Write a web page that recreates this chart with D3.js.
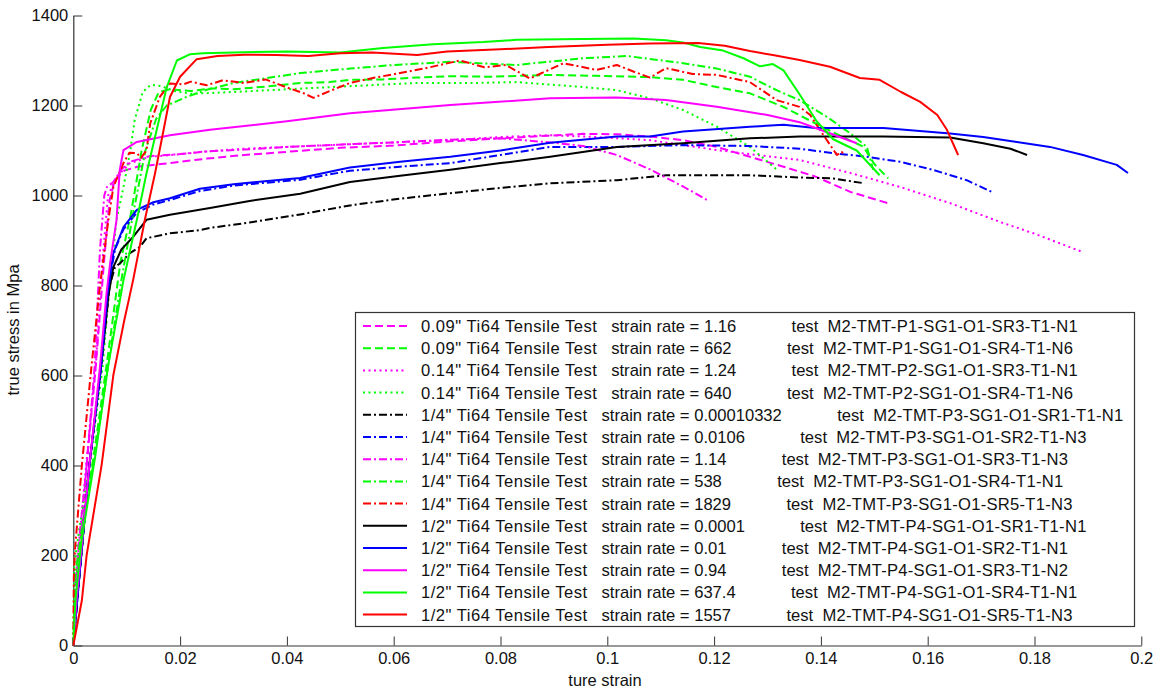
<!DOCTYPE html>
<html><head><meta charset="utf-8">
<script src="https://cdn.jsdelivr.net/npm/d3@7"></script>
<style>
html,body{margin:0;padding:0;background:#fff;}
svg{display:block;font-family:"Liberation Sans",Arial,Helvetica,sans-serif;}
</style></head>
<body><svg id="chart" width="1156" height="691"></svg>
<script>
// ---------- data (strain, true stress MPa) ----------
const s1_009_116 = [[0,0],[0.0008,150],[0.0025,400],[0.0042,620],[0.0058,860],[0.0068,990],[0.0078,1035],[0.0095,1055],[0.012,1064],[0.018,1072],[0.025,1082],[0.032,1090],[0.04,1097],[0.05,1106],[0.06,1111],[0.07,1120],[0.08,1127],[0.089,1133],[0.0955,1137],[0.102,1136],[0.108,1131],[0.1142,1123],[0.1205,1108],[0.1267,1086],[0.133,1064],[0.139,1042],[0.1455,1008],[0.1531,981]];
const s2_009_662 = [[0,0],[0.0003,120],[0.0015,250],[0.0038,420],[0.0062,620],[0.0088,850],[0.0108,960],[0.0128,1100],[0.0145,1190],[0.016,1230],[0.018,1236],[0.022,1232],[0.026,1238],[0.03,1236],[0.036,1242],[0.0425,1250],[0.048,1252],[0.0518,1257],[0.058,1258],[0.0643,1262],[0.0706,1265],[0.078,1264],[0.0893,1268],[0.098,1266],[0.108,1263],[0.1142,1257],[0.1205,1241],[0.1267,1227],[0.133,1197],[0.139,1160],[0.1441,1130],[0.148,1108],[0.150,1070],[0.1526,1038]];
const s3_014_124 = [[0,0],[0.0006,160],[0.0024,400],[0.0042,620],[0.0055,860],[0.0065,1000],[0.0081,1041],[0.0106,1072],[0.0144,1086],[0.02,1092],[0.025,1098],[0.032,1104],[0.04,1108],[0.0518,1114],[0.06,1118],[0.0706,1123],[0.08,1130],[0.0893,1134],[0.098,1130],[0.108,1123],[0.1205,1101],[0.128,1090],[0.136,1079],[0.1455,1050],[0.1548,1019],[0.1642,983],[0.1736,941],[0.1798,916],[0.1891,874]];
const s4_014_640 = [[0,0],[0.0002,180],[0.001,250],[0.0033,420],[0.0055,620],[0.0068,800],[0.0081,946],[0.0094,1019],[0.0106,1094],[0.0115,1168],[0.013,1230],[0.0145,1246],[0.0165,1243],[0.019,1232],[0.022,1226],[0.03,1230],[0.04,1236],[0.05,1242],[0.0643,1250],[0.075,1250],[0.083,1252],[0.0955,1241],[0.1018,1234],[0.108,1216],[0.1142,1190],[0.1205,1153],[0.1267,1108],[0.1318,1057]];
const s5_q_000010332 = [[0,0],[0.0008,110],[0.003,400],[0.0052,620],[0.0068,800],[0.0078,840],[0.0088,850],[0.0106,872],[0.0125,886],[0.0137,905],[0.0181,916],[0.0237,923],[0.0256,928],[0.033,940],[0.0425,958],[0.0518,978],[0.0612,993],[0.0706,1005],[0.08,1017],[0.0893,1027],[0.1018,1034],[0.111,1045],[0.12,1045],[0.1267,1045],[0.136,1040],[0.1423,1038],[0.1482,1027]];
const s6_q_00106 = [[0,0],[0.0008,110],[0.003,400],[0.0052,620],[0.0066,800],[0.0078,880],[0.0094,925],[0.0119,962],[0.015,980],[0.0181,990],[0.0237,1010],[0.03,1022],[0.0425,1035],[0.0518,1055],[0.0612,1064],[0.0706,1072],[0.08,1090],[0.0893,1108],[0.1018,1108],[0.1142,1112],[0.1267,1110],[0.136,1104],[0.1423,1094],[0.1486,1086],[0.1548,1075],[0.161,1057],[0.1673,1034],[0.172,1008]];
const s7_q_114 = [[0,0],[0.0008,200],[0.0025,400],[0.004,620],[0.005,880],[0.0058,1000],[0.0063,1019],[0.0075,1030],[0.009,1058],[0.0106,1075],[0.0144,1088],[0.02,1092],[0.025,1098],[0.032,1102],[0.04,1108],[0.0518,1114],[0.06,1118],[0.0706,1124],[0.08,1127],[0.0893,1118],[0.0955,1110],[0.1018,1090],[0.108,1058],[0.1142,1020],[0.119,988]];
const s8_q_538 = [[0,0],[0.0003,150],[0.0015,250],[0.004,420],[0.0065,620],[0.009,812],[0.011,946],[0.0135,1100],[0.0155,1170],[0.0175,1200],[0.0212,1219],[0.025,1235],[0.03,1250],[0.0425,1272],[0.0518,1282],[0.06,1290],[0.0706,1297],[0.083,1290],[0.0955,1305],[0.1037,1310],[0.1142,1294],[0.1205,1282],[0.1267,1264],[0.1317,1234],[0.136,1212],[0.1411,1175],[0.1455,1138],[0.1486,1108],[0.1498,1057]];
const s9_q_1829 = [[0,0],[0.0001,150],[0.0003,210],[0.0016,400],[0.0034,620],[0.005,800],[0.0065,940],[0.0075,1019],[0.0094,1072],[0.0105,1095],[0.0119,1094],[0.0127,1084],[0.0137,1100],[0.0144,1160],[0.0162,1219],[0.0181,1249],[0.0206,1247],[0.022,1253],[0.025,1245],[0.028,1256],[0.032,1250],[0.036,1258],[0.04,1240],[0.043,1228],[0.045,1217],[0.048,1232],[0.0518,1250],[0.0565,1262],[0.0612,1272],[0.066,1283],[0.0724,1300],[0.077,1285],[0.081,1290],[0.0855,1260],[0.0918,1294],[0.098,1279],[0.1018,1290],[0.105,1275],[0.108,1262],[0.111,1283],[0.116,1270],[0.1205,1268],[0.1267,1252],[0.1317,1212],[0.136,1197],[0.138,1179],[0.1398,1146],[0.143,1090],[0.1439,1097],[0.1445,1088]];
const s10_h_00001 = [[0,0],[0.0008,110],[0.003,400],[0.0052,620],[0.0066,780],[0.0075,841],[0.009,880],[0.0112,908],[0.0137,946],[0.0181,957],[0.0256,972],[0.033,988],[0.0425,1004],[0.0518,1030],[0.0612,1044],[0.0706,1057],[0.08,1072],[0.0893,1086],[0.1018,1108],[0.1142,1116],[0.1267,1127],[0.136,1131],[0.1517,1131],[0.1642,1129],[0.1704,1116],[0.1755,1104],[0.1786,1090]];
const s11_h_001 = [[0,0],[0.0008,110],[0.003,400],[0.0052,620],[0.0064,780],[0.0075,872],[0.0094,930],[0.0119,968],[0.015,985],[0.0181,994],[0.0237,1015],[0.03,1025],[0.0425,1039],[0.0518,1062],[0.0612,1075],[0.0706,1086],[0.08,1100],[0.0893,1117],[0.1018,1131],[0.108,1131],[0.1142,1142],[0.1267,1153],[0.133,1157],[0.139,1150],[0.1517,1150],[0.1642,1138],[0.1704,1130],[0.1767,1119],[0.1829,1108],[0.1891,1090],[0.1954,1068],[0.1975,1050]];
const s12_h_094 = [[0,0],[0.0006,100],[0.003,400],[0.005,620],[0.0062,780],[0.0069,850],[0.0081,946],[0.0087,1057],[0.0094,1101],[0.0119,1119],[0.0181,1134],[0.0256,1146],[0.04,1165],[0.0518,1183],[0.0706,1201],[0.0893,1216],[0.1018,1218],[0.111,1212],[0.1205,1197],[0.13,1179],[0.136,1163],[0.139,1150],[0.1467,1116]];
const s13_h_6374 = [[0,0],[0.0004,100],[0.0015,230],[0.0041,420],[0.0065,620],[0.0094,812],[0.0119,946],[0.0137,1049],[0.0156,1145],[0.0175,1241],[0.0194,1300],[0.0219,1314],[0.0243,1316],[0.03,1318],[0.04,1320],[0.05,1318],[0.058,1328],[0.0674,1336],[0.0768,1341],[0.083,1346],[0.0955,1348],[0.1049,1349],[0.111,1345],[0.1142,1340],[0.1174,1330],[0.1217,1322],[0.1255,1305],[0.1286,1287],[0.131,1292],[0.133,1278],[0.136,1225],[0.1392,1165],[0.1423,1125],[0.1467,1100],[0.151,1045]];
const s14_h_1557 = [[0,0],[0.0016,100],[0.0025,201],[0.0053,401],[0.0075,601],[0.0095,720],[0.0112,812],[0.0134,946],[0.0153,1049],[0.0169,1145],[0.0181,1219],[0.02,1264],[0.0231,1303],[0.027,1310],[0.032,1313],[0.038,1312],[0.044,1310],[0.05,1316],[0.056,1318],[0.0644,1312],[0.07,1320],[0.08,1325],[0.089,1330],[0.1,1335],[0.108,1338],[0.117,1339],[0.122,1333],[0.1267,1321],[0.131,1312],[0.136,1301],[0.1417,1286],[0.1473,1261],[0.151,1257],[0.155,1230],[0.1586,1208],[0.1618,1179],[0.1636,1146],[0.1657,1090]];

const seriesData = [s1_009_116,s2_009_662,s3_014_124,s4_014_640,s5_q_000010332,s6_q_00106,s7_q_114,s8_q_538,s9_q_1829,s10_h_00001,s11_h_001,s12_h_094,s13_h_6374,s14_h_1557];
const specimenSizes = ['0.09"','0.09"','0.14"','0.14"','1/4"','1/4"','1/4"','1/4"','1/4"','1/2"','1/2"','1/2"','1/2"','1/2"'];
const strainRates = ['1.16','662','1.24','640','0.00010332','0.0106','1.14','538','1829','0.0001','0.01','0.94','637.4','1557'];
const testIds = ['M2-TMT-P1-SG1-O1-SR3-T1-N1','M2-TMT-P1-SG1-O1-SR4-T1-N6','M2-TMT-P2-SG1-O1-SR3-T1-N1','M2-TMT-P2-SG1-O1-SR4-T1-N6','M2-TMT-P3-SG1-O1-SR1-T1-N1','M2-TMT-P3-SG1-O1-SR2-T1-N3','M2-TMT-P3-SG1-O1-SR3-T1-N3','M2-TMT-P3-SG1-O1-SR4-T1-N1','M2-TMT-P3-SG1-O1-SR5-T1-N3','M2-TMT-P4-SG1-O1-SR1-T1-N1','M2-TMT-P4-SG1-O1-SR2-T1-N1','M2-TMT-P4-SG1-O1-SR3-T1-N2','M2-TMT-P4-SG1-O1-SR4-T1-N1','M2-TMT-P4-SG1-O1-SR5-T1-N3'];
const xTicks = [0,0.02,0.04,0.06,0.08,0.1,0.12,0.14,0.16,0.18,0.2];
const yTicks = [0,200,400,600,800,1000,1200,1400];

// ---------- styles ----------
const colors = ['#ff00ff','#00ff00','#ff00ff','#00ff00','#000000','#0000ff','#ff00ff','#00ff00','#ff0000','#000000','#0000ff','#ff00ff','#00ff00','#ff0000'];
const DASH='8,4', DOT='2,3.5', DASHDOT='8,3,2,3', SOLID=null;
const dashes = [DASH,DASH,DOT,DOT,DASHDOT,DASHDOT,DASHDOT,DASHDOT,DASHDOT,SOLID,SOLID,SOLID,SOLID,SOLID];

const svg = d3.select('#chart');
const x = d3.scaleLinear().domain([0,0.2]).range([73.3,1141.3]);
const y = d3.scaleLinear().domain([0,1400]).range([645.5,15.5]);

// axes
const fontTick = '16.5px';
const gx = svg.append('g').attr('transform','translate(0,645.5)')
  .call(d3.axisBottom(x).tickValues(xTicks).tickFormat(d=>String(d)).tickSizeInner(-9).tickSizeOuter(0).tickPadding(7));
const gy = svg.append('g').attr('transform','translate(73.3,0)')
  .call(d3.axisLeft(y).tickValues(yTicks).tickFormat(d=>String(d)).tickSizeInner(-9).tickSizeOuter(0).tickPadding(5));
[gx,gy].forEach(g=>{
  g.selectAll('.domain').attr('stroke','#333').attr('stroke-width',1.2);
  g.selectAll('.tick line').attr('stroke','#333');
  g.selectAll('.tick text').attr('fill','#111').style('font-size',fontTick).style('font-family','"Liberation Sans",Arial,sans-serif');
});

// curves
const line = d3.line().x(d=>x(d[0])).y(d=>y(d[1]));
const cg = svg.append('g');
seriesData.forEach((s,i)=>{
  cg.append('path').datum(s).attr('d',line)
    .attr('fill','none').attr('stroke',colors[i]).attr('stroke-width',2)
    .attr('stroke-linejoin','round')
    .attr('stroke-dasharray',dashes[i]);
});

// axis labels
svg.append('text').attr('x',605).attr('y',686).attr('text-anchor','middle')
  .style('font-size','16.5px').attr('fill','#111').text('ture strain');
svg.append('text').attr('transform','translate(19,330) rotate(-90)').attr('text-anchor','middle')
  .style('font-size','16.5px').attr('fill','#111').text('true stress in Mpa');

// legend
const lg = svg.append('g');
lg.append('rect').attr('x',355.5).attr('y',312.5).attr('width',779).attr('height',314)
  .attr('fill','#fff').attr('stroke','#333').attr('stroke-width',1.2);
const rowY = i => 326 + i*22.2;
seriesData.forEach((s,i)=>{
  lg.append('line').attr('x1',363).attr('x2',407).attr('y1',rowY(i)).attr('y2',rowY(i))
    .attr('stroke',colors[i]).attr('stroke-width',2).attr('stroke-dasharray',dashes[i]);
  const t = lg.append('text').attr('x',421).attr('y',rowY(i)).attr('dy','0.36em')
    .style('font-size','16.6px').style('white-space','pre').attr('fill','#111');
  t.append('tspan').style('letter-spacing','0.5px').text(`${specimenSizes[i]} Ti64 Tensile Test`);
  t.append('tspan').text(`   strain rate = ${strainRates[i]}            test  `);
  t.append('tspan').style('letter-spacing','0.27px').text(testIds[i]);
});
</script></body></html>
